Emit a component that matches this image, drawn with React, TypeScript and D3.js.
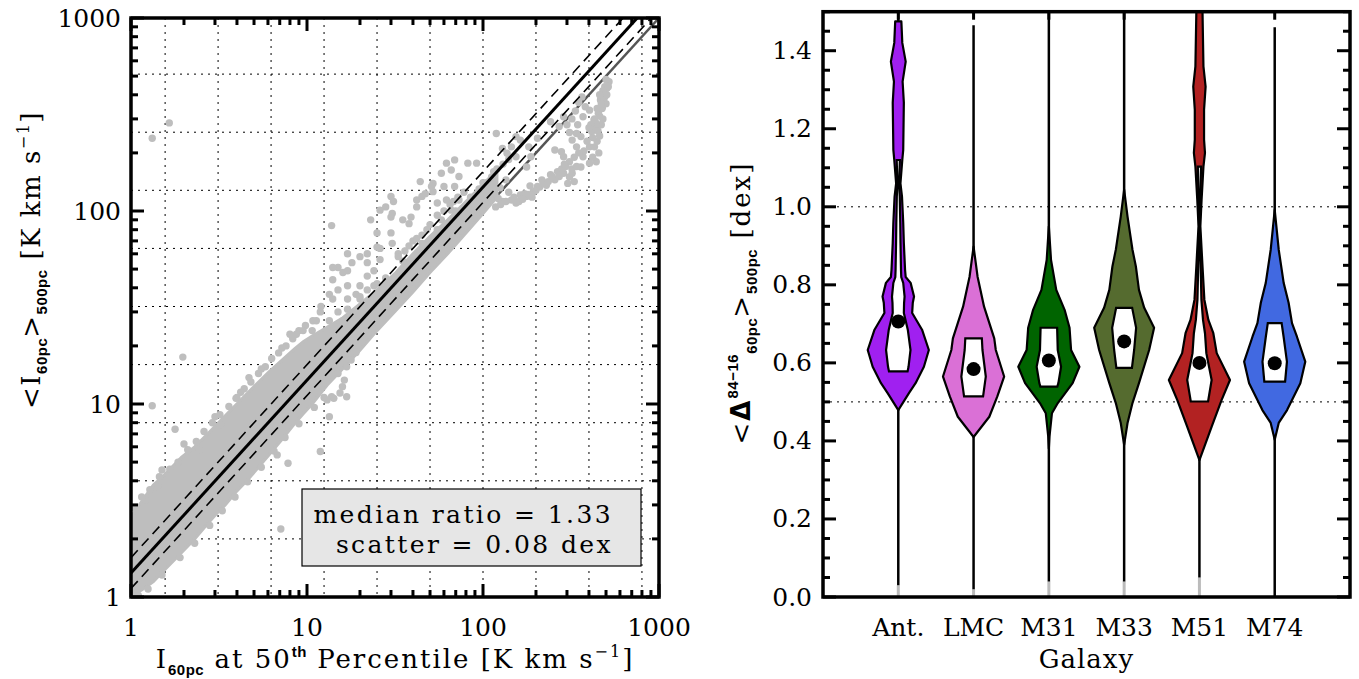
import React from "react";
import * as d3 from "d3";

const W = 1359;
const H = 679;

// ---------- Left panel data ----------
const logTickVals = [1, 10, 100, 1000];
const xGridVals = [1.5625, 3.125, 6.25, 12.5, 25, 50, 100, 200, 400, 800];
const yGridVals = [2, 4, 8, 16, 32, 64, 128, 256, 512];
const medianRatio = 1.33;
const scatterDex = 0.08;

// dense core of the point cloud (I50 vs lower / upper edge of <I>500)
const bandX = [1.0, 1.17, 1.34, 1.55, 1.94, 2.3, 2.73, 3.06, 3.43, 3.95, 4.55, 5.4, 6.04, 7.16, 8.49, 9.52, 10.7, 13, 16, 20, 25, 32, 40, 50, 63, 80, 100, 120];
const bandHi = [2.6, 3.2, 3.8, 4.3, 5.3, 6.0, 7.0, 7.8, 8.7, 9.9, 11.3, 13.2, 14.6, 16.8, 19.3, 21, 22.5, 25, 28, 33, 39, 48, 60, 74, 90, 112, 138, 162];
const bandLo = [1.0, 1.1, 1.2, 1.38, 1.7, 2.0, 2.4, 2.7, 3.0, 3.5, 4.0, 4.8, 5.4, 6.5, 7.9, 8.9, 10.0, 12.5, 15.3, 19, 24, 30.5, 38, 48, 60, 77, 97, 118];

const scatterPoints: [number, number][] = [
  [1.32, 238], [1.65, 286], [1.32, 9.8], [1.97, 17.5], [7.1, 2.25], [13.8, 84], [1.78, 7.4], [11.9, 5.67],
  [4.68, 13.7], [3.95, 10.7], [3.24, 7.8], [2.44, 5.78], [1.5, 4.55], [1.42, 3.73], [1.2, 3.18], [1.09, 2.77],
  [1.05, 2.9], [1.15, 3.3], [1.28, 3.6], [1.45, 4.2], [1.66, 4.6], [1.85, 5.0], [2.1, 5.8], [2.35, 6.4], [2.6, 7.2],
  [2.9, 8.0], [3.2, 8.8], [3.6, 9.7], [4.0, 10.8], [4.4, 12.0], [4.8, 13.0], [5.3, 14.4], [5.8, 15.6], [6.3, 17.2],
  [6.9, 18.4], [7.6, 20.0], [8.3, 21.8], [9.0, 24.0], [9.8, 25.5], [10.8, 27.0], [11.9, 30.0], [2.0, 6.2], [3.0, 8.6],
  [4.2, 11.5], [5.5, 15.2], [7.2, 19.5], [8.7, 23.0],
  [7.8, 4.93], [6.77, 5.45], [13.4, 8.6], [15, 14.4], [15.9, 12.3], [16.8, 10.9], [15.4, 11.4], [14.2, 10.7],
  [16.3, 13.3], [16.8, 15.6], [17.8, 16.9], [18.3, 19.1], [13.8, 10.9], [13, 10.5], [20.5, 21],
  [1.1, 1.02], [1.25, 1.1], [1.5, 1.3], [1.9, 1.6], [2.3, 1.9], [2.8, 2.35], [3.3, 2.8], [3.9, 3.3], [4.6, 3.95],
  [5.5, 4.7], [6.5, 5.7], [7.5, 6.7], [9, 7.9], [11, 9.6], [12.5, 10.8], [19, 18.5], [24, 24.5], [30, 31], [38, 40],
  [48, 51], [60, 63], [75, 79], [90, 95], [110, 115], [125, 132], [135, 145], [105, 112],
  [92, 177], [82, 177], [69, 184], [62, 177], [58, 157], [66, 163], [73, 151], [69, 134], [60, 134], [52, 126],
  [52, 139], [44, 142], [47, 123], [45, 119], [51, 134], [42, 114], [55, 110], [62, 114], [66, 101], [73, 114],
  [82, 105], [87, 97], [30, 119], [31, 112], [28, 105], [26, 101], [30, 93], [23, 90], [30.5, 97], [25, 77],
  [30, 77], [35, 90], [39, 93], [42, 105], [38, 86],
  [25, 65], [26, 64], [30.5, 68], [33, 60], [22, 60], [20, 58], [17, 60], [18, 54], [15, 51], [17, 49], [14, 51],
  [14, 44], [16, 48], [22, 54], [24, 49], [26, 56], [22, 46], [24, 41], [20, 41], [17, 41], [15, 39], [13.4, 37],
  [12, 32], [14, 35], [17, 35], [19, 37], [22, 39], [25, 42], [20, 35], [17, 31], [15, 30], [11.3, 27], [9.5, 24],
  [8.0, 23], [10.7, 24], [13.4, 27], [16, 27],
  [20, 36], [28, 45], [35, 55], [45, 68], [55, 80], [70, 100], [85, 118], [100, 140], [115, 160],
  [33, 58], [36, 62], [40, 70], [45, 75], [50, 85], [55, 95], [60, 100], [65, 108], [72, 118], [78, 125],
  [48, 80], [42, 72], [38, 66], [58, 90], [68, 112],
  [95, 130], [105, 140], [112, 150], [120, 165], [130, 175], [140, 185],
  [119, 252], [154, 243], [163, 233], [182, 215], [187, 191], [204, 238], [177, 169], [154, 191], [145, 215],
  [129, 211], [137, 199],
  [403, 177], [360, 169], [321, 157], [287, 157], [271, 151], [242, 154], [216, 145], [204, 134], [193, 126],
  [177, 119], [163, 121], [145, 114], [129, 112], [122, 116], [154, 110], [172, 123], [229, 136], [256, 145],
  [303, 139], [330, 142],
  [110, 118], [118, 105], [126, 108], [135, 112], [150, 118], [160, 112], [168, 115], [180, 122], [190, 118],
  [200, 128], [210, 133], [220, 140], [235, 142], [248, 150], [265, 160], [280, 165], [295, 170], [310, 150],
  [320, 165], [340, 170], [140, 125], [185, 135],
  [520, 468], [506, 432], [492, 391], [465, 376], [452, 321], [427, 296], [403, 333], [381, 347], [370, 308],
  [439, 274], [415, 258], [360, 243], [340, 252], [321, 233], [287, 308], [271, 274], [242, 290], [279, 203],
  [287, 191], [256, 207], [340, 215], [370, 191], [403, 215], [478, 347], [492, 441],
  [440, 180], [420, 190], [455, 200], [430, 215], [445, 230], [460, 245], [420, 240], [450, 260], [470, 280],
  [440, 285], [460, 310], [480, 300], [430, 300], [455, 330], [475, 340], [500, 360], [485, 380], [470, 360],
  [505, 400], [515, 440], [500, 480], [480, 420], [460, 400], [445, 340], [410, 280], [400, 270], [390, 230],
  [375, 205], [350, 200], [330, 190], [310, 180], [290, 175],
  [300, 280], [320, 300], [335, 330], [350, 365], [365, 390], [345, 280], [310, 255],
];

// ---------- Right panel data ----------
const galaxies = ["Ant.", "LMC", "M31", "M33", "M51", "M74"];
const galaxyColors = ["#a020f0", "#da70d6", "#006400", "#556b2f", "#b22222", "#4169e1"];
// [value (dex), relative density]
const violinAnt: [number, number][] = [[1.475, 0.1], [1.42, 0.13], [1.372, 0.24], [1.321, 0.14], [1.267, 0.18], [1.146, 0.16], [1.12, 0.13], [1.06, 0.07], [1.026, 0.12], [0.959, 0.16], [0.907, 0.18], [0.838, 0.22], [0.82, 0.24], [0.805, 0.4], [0.77, 0.51], [0.754, 0.47], [0.728, 0.45], [0.685, 0.77], [0.633, 0.99], [0.59, 0.83], [0.548, 0.56], [0.523, 0.35], [0.479, 0.0]];
const violinLMC: [number, number][] = [[0.898, 0], [0.821, 0.13], [0.744, 0.34], [0.663, 0.67], [0.633, 0.72], [0.565, 0.99], [0.514, 0.77], [0.462, 0.51], [0.41, 0]];
const violinM31: [number, number][] = [[0.95, 0], [0.864, 0.07], [0.787, 0.24], [0.736, 0.51], [0.69, 0.67], [0.633, 0.72], [0.59, 0.99], [0.548, 0.77], [0.497, 0.29], [0.471, 0.1], [0.411, 0.02], [0.38, 0]];
const violinM33: [number, number][] = [[1.044, 0], [0.975, 0.11], [0.89, 0.27], [0.847, 0.38], [0.787, 0.48], [0.741, 0.65], [0.69, 0.97], [0.633, 0.81], [0.548, 0.48], [0.497, 0.27], [0.446, 0.11], [0.39, 0]];
const violinM51: [number, number][] = [[1.5, 0.1], [1.36, 0.13], [1.308, 0.2], [1.249, 0.15], [1.172, 0.15], [1.138, 0.18], [1.103, 0.13], [1.018, 0.07], [0.95, 0.03], [0.847, 0.1], [0.762, 0.16], [0.71, 0.29], [0.676, 0.45], [0.625, 0.56], [0.556, 0.99], [0.505, 0.72], [0.437, 0.4], [0.351, 0]];
const violinM74: [number, number][] = [[0.992, 0], [0.89, 0.13], [0.805, 0.29], [0.754, 0.45], [0.702, 0.56], [0.667, 0.72], [0.603, 0.99], [0.548, 0.83], [0.479, 0.4], [0.446, 0.13], [0.403, 0]];
const violinProfiles = [violinAnt, violinLMC, violinM31, violinM33, violinM51, violinM74];
const quartileLo = [0.578, 0.514, 0.539, 0.587, 0.501, 0.552];
const quartileHi = [1.12, 0.663, 0.69, 0.741, 1.103, 0.702];
const meanVals = [0.706, 0.584, 0.606, 0.655, 0.6, 0.599];
const whiskerLo = [0.03, 0.02, 0.04, 0.04, 0.05, 0.0];
const whiskerHi = [1.5, 1.465, 1.5, 1.5, 1.5, 1.46];
const rightYTicks = [0, 0.2, 0.4, 0.6, 0.8, 1.0, 1.2, 1.4];
const rightGridVals = [0.5, 1.0];

const SERIF = "'DejaVu Serif', serif";
const SANSB = "'Liberation Sans', Arial, sans-serif";

// ---------- scales ----------
const xL = d3.scaleLog().domain([1, 1000]).range([131, 659]);
const yL = d3.scaleLog().domain([1, 1000]).range([597, 18]);
const xR = d3.scaleLinear().domain([0, 7]).range([823, 1350]);
const yR = d3.scaleLinear().domain([0, 1.5]).range([597, 11.7]);
const densityToUnits = 0.41;
const innerFactor = 0.4;

function interpDensity(profile: [number, number][], v: number) {
  for (let i = 0; i < profile.length - 1; i++) {
    const [v0, d0] = profile[i];
    const [v1, d1] = profile[i + 1];
    if (v <= v0 && v >= v1) {
      const t = (v0 - v) / (v0 - v1 || 1);
      return d0 + (d1 - d0) * t;
    }
  }
  return 0;
}

function violinPath(pts: [number, number][], c: number, scale: number) {
  const hw = (d: number) => xR(c + d * densityToUnits * scale) - xR(c);
  const cx = xR(c);
  const right = pts.map(([v, d]) => [cx + hw(d), yR(v)] as [number, number]);
  const left = pts.slice().reverse().map(([v, d]) => [cx - hw(d), yR(v)] as [number, number]);
  return d3.line()([...right, ...left]) + "Z";
}

function LeftPanel() {
  const minorVals: number[] = [];
  for (let e = 0; e < 3; e++) for (let m = 2; m <= 9; m++) minorVals.push(m * Math.pow(10, e));
  const band = d3
    .area<number>()
    .x((_, i) => xL(bandX[i]))
    .y0((_, i) => yL(bandLo[i]))
    .y1((_, i) => yL(bandHi[i]))
    .curve(d3.curveLinear)(bandX);
  const lineFn = (ratio: number) => {
    const xs = [1, 1000 / ratio > 1000 ? 1000 : 1000 / ratio];
    return d3.line<number>().x((x) => xL(x)).y((x) => yL(x * ratio))(xs) as string;
  };
  const dexFactor = Math.pow(10, scatterDex);
  const x0 = 131, x1 = 659, y0 = 597, y1 = 18;
  return (
    <g>
      <defs>
        <clipPath id="clipL">
          <rect x={x0} y={y1} width={x1 - x0} height={y0 - y1} />
        </clipPath>
      </defs>
      {xGridVals.map((v) => (
        <line key={"gx" + v} x1={xL(v)} x2={xL(v)} y1={y1} y2={y0} stroke="#000" strokeWidth={1} strokeDasharray="2,5" />
      ))}
      {yGridVals.map((v) => (
        <line key={"gy" + v} x1={x0} x2={x1} y1={yL(v)} y2={yL(v)} stroke="#000" strokeWidth={1} strokeDasharray="2,5" />
      ))}
      <g clipPath="url(#clipL)">
        <path d={lineFn(1)} stroke="#555" strokeWidth={2.5} fill="none" />
        <path d={band as string} fill="#bebebe" stroke="#bebebe" strokeWidth={3} />
        {scatterPoints.map(([x, y], i) => (
          <circle key={"p" + i} cx={xL(x)} cy={yL(y)} r={3.7} fill="#bebebe" />
        ))}
        <path d={lineFn(medianRatio)} stroke="#000" strokeWidth={3} fill="none" />
        <path d={lineFn(medianRatio * dexFactor)} stroke="#000" strokeWidth={1.6} fill="none" strokeDasharray="10,6" />
        <path d={lineFn(medianRatio / dexFactor)} stroke="#000" strokeWidth={1.6} fill="none" strokeDasharray="10,6" />
      </g>
      {/* legend box */}
      <rect x={302} y={489} width={339} height={77} fill="#e6e6e6" stroke="#000" strokeWidth={1.2} />
      <text x={613} y={514} textAnchor="end" dominantBaseline="central" fontFamily={SERIF} fontSize={25} letterSpacing={2.4} style={{ whiteSpace: "pre" }}>
        {`median ratio = ${medianRatio.toFixed(2)}`}
      </text>
      <text x={613} y={544} textAnchor="end" dominantBaseline="central" fontFamily={SERIF} fontSize={25} letterSpacing={2.4} style={{ whiteSpace: "pre" }}>
        {`scatter = ${scatterDex.toFixed(2)} dex`}
      </text>
      {/* ticks */}
      {logTickVals.map((v) => (
        <g key={"mt" + v}>
          <line x1={xL(v)} x2={xL(v)} y1={y0} y2={y0 - 13} stroke="#000" strokeWidth={3} />
          <line x1={xL(v)} x2={xL(v)} y1={y1} y2={y1 + 13} stroke="#000" strokeWidth={3} />
          <line x1={x0} x2={x0 + 13} y1={yL(v)} y2={yL(v)} stroke="#000" strokeWidth={3} />
          <line x1={x1} x2={x1 - 13} y1={yL(v)} y2={yL(v)} stroke="#000" strokeWidth={3} />
        </g>
      ))}
      {minorVals.map((v) => (
        <g key={"mn" + v}>
          <line x1={xL(v)} x2={xL(v)} y1={y0} y2={y0 - 7} stroke="#000" strokeWidth={3} />
          <line x1={xL(v)} x2={xL(v)} y1={y1} y2={y1 + 7} stroke="#000" strokeWidth={3} />
          <line x1={x0} x2={x0 + 7} y1={yL(v)} y2={yL(v)} stroke="#000" strokeWidth={3} />
          <line x1={x1} x2={x1 - 7} y1={yL(v)} y2={yL(v)} stroke="#000" strokeWidth={3} />
        </g>
      ))}
      <rect x={x0} y={y1} width={x1 - x0} height={y0 - y1} fill="none" stroke="#000" strokeWidth={3.5} />
      {logTickVals.map((v) => (
        <text key={"xl" + v} x={xL(v)} y={627} textAnchor="middle" dominantBaseline="central" fontFamily={SERIF} fontSize={25}>
          {String(v)}
        </text>
      ))}
      {logTickVals.map((v) => (
        <text key={"yl" + v} x={121} y={yL(v)} textAnchor="end" dominantBaseline="central" fontFamily={SERIF} fontSize={25}>
          {String(v)}
        </text>
      ))}
      {/* axis titles */}
      <text x={395} y={668} textAnchor="middle" fontFamily={SERIF} fontSize={26} letterSpacing={2} style={{ whiteSpace: "pre" }}>
        I<tspan fontFamily={SANSB} fontWeight="bold" fontSize={15} dy={7} letterSpacing={0.5}>60pc</tspan>
        <tspan dy={-7}>{" at 50"}</tspan>
        <tspan fontFamily={SANSB} fontWeight="bold" fontSize={15} dy={-11} letterSpacing={0.5}>th</tspan>
        <tspan dy={11}>{" Percentile [K km s"}</tspan>
        <tspan fontSize={16} dy={-11}>−1</tspan>
        <tspan dy={11}>]</tspan>
      </text>
      <text transform="translate(40,260) rotate(-90)" textAnchor="middle" fontFamily={SERIF} fontSize={26} letterSpacing={1.5} style={{ whiteSpace: "pre" }}>
        {"<I"}
        <tspan fontFamily={SANSB} fontWeight="bold" fontSize={15} dy={7} letterSpacing={0.5}>60pc</tspan>
        <tspan dy={-7}>{">"}</tspan>
        <tspan fontFamily={SANSB} fontWeight="bold" fontSize={15} dy={7} letterSpacing={0.5}>500pc</tspan>
        <tspan dy={-7}>{" [K km s"}</tspan>
        <tspan fontSize={16} dy={-11}>−1</tspan>
        <tspan dy={11}>]</tspan>
      </text>
    </g>
  );
}

function RightPanel() {
  const x0 = 823, x1 = 1350, y0 = 597, y1 = 11.7;
  const minor: number[] = [];
  for (let k = 0; k <= 30; k++) minor.push(+(k * 0.05).toFixed(2));
  return (
    <g>
      {rightGridVals.map((v) => (
        <line key={"rg" + v} x1={x0} x2={x1} y1={yR(v)} y2={yR(v)} stroke="#000" strokeWidth={1} strokeDasharray="2,5" />
      ))}
      {galaxies.map((g, i) => {
        const c = i + 1;
        const prof = violinProfiles[i];
        const q1 = quartileLo[i];
        const q3 = quartileHi[i];
        const inner: [number, number][] = [
          [q3, interpDensity(prof, q3)],
          ...prof.filter(([v]) => v < q3 && v > q1),
          [q1, interpDensity(prof, q1)],
        ];
        return (
          <g key={g}>
            <line x1={xR(c)} x2={xR(c)} y1={y0} y2={yR(whiskerLo[i])} stroke="#bbb" strokeWidth={3} />
            <line x1={xR(c)} x2={xR(c)} y1={yR(whiskerLo[i])} y2={yR(whiskerHi[i])} stroke="#000" strokeWidth={2.5} />
            <line x1={xR(c)} x2={xR(c)} y1={y1} y2={y1 + 8} stroke="#000" strokeWidth={3} />
            <path d={violinPath(prof, c, 1)} fill={galaxyColors[i]} stroke="#000" strokeWidth={2.2} strokeLinejoin="round" />
            <path d={violinPath(inner, c, innerFactor)} fill="#fff" stroke="#000" strokeWidth={2.2} strokeLinejoin="miter" />
            <circle cx={xR(c)} cy={yR(meanVals[i])} r={7} fill="#000" />
          </g>
        );
      })}
      {minor.map((v) => {
        const major = rightYTicks.some((t) => Math.abs(t - v) < 1e-6);
        const len = major ? 13 : 7;
        return (
          <g key={"rt" + v}>
            <line x1={x0} x2={x0 + len} y1={yR(v)} y2={yR(v)} stroke="#000" strokeWidth={3} />
            <line x1={x1} x2={x1 - len} y1={yR(v)} y2={yR(v)} stroke="#000" strokeWidth={3} />
          </g>
        );
      })}
      <rect x={x0} y={y1} width={x1 - x0} height={y0 - y1} fill="none" stroke="#000" strokeWidth={3.5} />
      {rightYTicks.map((v) => (
        <text key={"ryl" + v} x={812} y={yR(v)} textAnchor="end" dominantBaseline="central" fontFamily={SERIF} fontSize={25}>
          {v.toFixed(1)}
        </text>
      ))}
      {galaxies.map((g, i) => (
        <text key={"gl" + g} x={xR(i + 1)} y={627} textAnchor="middle" dominantBaseline="central" fontFamily={SERIF} fontSize={25}>
          {g}
        </text>
      ))}
      <text x={(x0 + x1) / 2} y={668} textAnchor="middle" fontFamily={SERIF} fontSize={26} letterSpacing={1}>
        Galaxy
      </text>
      <text transform="translate(750,303) rotate(-90)" textAnchor="middle" fontFamily={SERIF} fontSize={26} letterSpacing={2} style={{ whiteSpace: "pre" }}>
        {"<"}
        <tspan fontFamily="'DejaVu Sans', sans-serif" fontWeight="bold">Δ</tspan>
        <tspan fontFamily={SANSB} fontWeight="bold" fontSize={15} dy={-12} letterSpacing={0.5}>84−16</tspan>
        <tspan fontFamily={SANSB} fontWeight="bold" fontSize={15} dy={19} letterSpacing={0.5}>60pc</tspan>
        <tspan dy={-7}>{">"}</tspan>
        <tspan fontFamily={SANSB} fontWeight="bold" fontSize={15} dy={7} letterSpacing={0.5}>500pc</tspan>
        <tspan dy={-7}>{" [dex]"}</tspan>
      </text>
    </g>
  );
}

export default function App() {
  return (
    <svg
      width={W}
      height={H}
      viewBox={`0 0 ${W} ${H}`}
      style={{ position: "fixed", left: 0, top: 0, background: "#fff" }}
    >
      <rect x={0} y={0} width={W} height={H} fill="#fff" />
      <LeftPanel />
      <RightPanel />
    </svg>
  );
}
